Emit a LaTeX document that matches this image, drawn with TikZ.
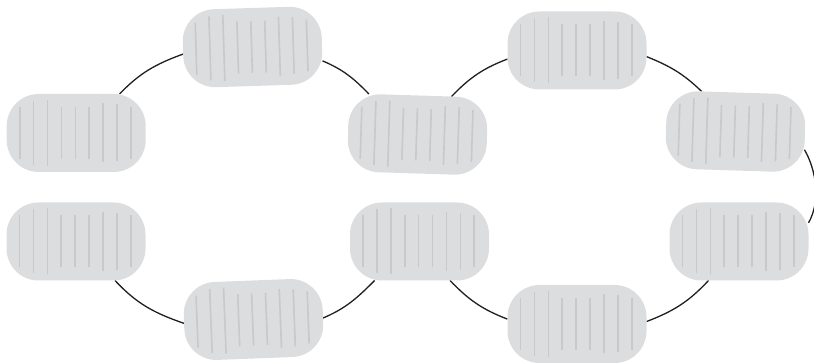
\documentclass[tikz,border=0pt]{standalone}
\usetikzlibrary{backgrounds}
\definecolor{blobfill}{HTML}{DCDDDF}
\definecolor{stripecol}{HTML}{C8C9CB}
\definecolor{linkcol}{HTML}{1F1F1F}
\tikzset{
  blob/.style={rectangle, rounded corners=32pt, fill=blobfill, minimum width=139pt, minimum height=78pt, inner sep=0pt, outer sep=0pt},
  stripeline/.style={draw=stripecol, line width=1.6pt},
  link/.style={draw=linkcol, line width=1.3pt},
}
\newcommand\mkblob[4]{%
  \node[blob, rotate=#4] (#1) at (#2,#3) {};
  \begin{scope}[shift={(#2,#3)}, rotate=#4]
    \foreach \k/\h in {0/26,1/32,2/33,3/26,4/26,5/26,6/29.5,7/28.5,8/26}
      \draw[stripeline] ({-56.5+13.9*\k}, -\h) -- ({-56.5+13.9*\k}, \h);
  \end{scope}}
\begin{document}
\begin{tikzpicture}[x=1pt,y=1pt]
\useasboundingbox (0,0) rectangle (814,363);
\mkblob{n1}{76.2}{230}{0}
\mkblob{n2}{252.5}{316}{1.8}
\mkblob{n3}{417.5}{228.5}{-1.8}
\mkblob{n4}{577}{312.5}{0}
\mkblob{n5}{735.5}{231.5}{-1.8}
\mkblob{n6}{76}{121.5}{0}
\mkblob{n7}{253.5}{43.5}{2.2}
\mkblob{n8}{419.5}{121.5}{0}
\mkblob{n9}{577}{39}{0}
\mkblob{n10}{739}{121.5}{0}
\begin{pgfonlayer}{background}
\draw[link] (n1.42) to[out=46,in=200] (n2.184);
\draw[link] (n2.-13) to[out=-23,in=134] (n3.142);
\draw[link] (n6.-45) to[out=-47,in=161] (n7.181);
\draw[link] (n7.-1) to[out=23,in=225] (n8.221);
\draw[link] (n3.50) to[out=46,in=201] (n4.187);
\draw[link] (n4.-5) to[out=-22,in=136] (n5.132);
\draw[link] (n5.-13) to[out=-60,in=60,looseness=0.85] (n10.15);
\draw[link] (n10.232) to[out=227,in=21] (n9.2);
\draw[link] (n9.176) to[out=159,in=-46] (n8.-52);
\end{pgfonlayer}
\end{tikzpicture}
\end{document}
